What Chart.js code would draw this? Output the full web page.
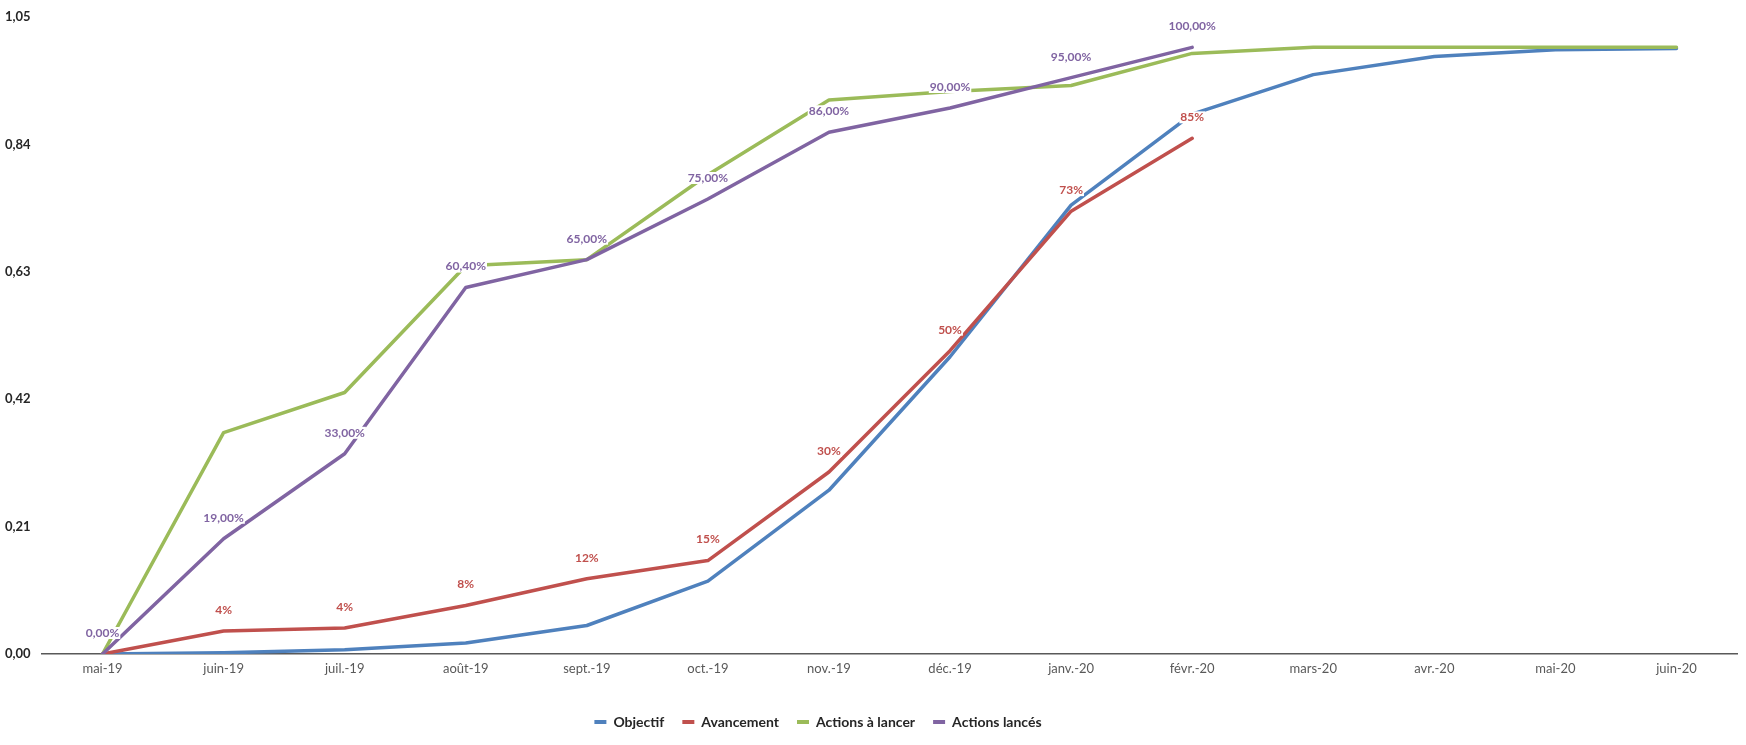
<!DOCTYPE html>
<html lang="fr">
<head>
  <meta charset="UTF-8">
  <title>Avancement des actions</title>
  <script src="https://cdn.jsdelivr.net/npm/chart.js"></script>
  <style>
    html, body { margin: 0; padding: 0; background: #fff; }
    #wrap { width: 1746px; height: 745px; }
  </style>
</head>
<body>
  <div id="wrap"><canvas id="progressChart" width="1746" height="745"></canvas></div>

  <script>
    // data
    const months = ['mai-19', 'juin-19', 'juil.-19', 'août-19', 'sept.-19', 'oct.-19', 'nov.-19',
      'déc.-19', 'janv.-20', 'févr.-20', 'mars-20', 'avr.-20', 'mai-20', 'juin-20'];
    const objectif = [0, 0.002, 0.007, 0.018, 0.047, 0.12, 0.27, 0.49, 0.74, 0.89, 0.955, 0.985, 0.996, 0.998];
    const avancement = [0, 0.038, 0.043, 0.08, 0.124, 0.154, 0.30, 0.50, 0.73, 0.85, null, null, null, null];
    const actionsALancer = [0, 0.365, 0.431, 0.64, 0.65, 0.79, 0.913, 0.927, 0.937, 0.99, 1, 1, 1, 1];
    const actionsLances = [0, 0.19, 0.33, 0.604, 0.65, 0.75, 0.86, 0.90, 0.95, 1.0, null, null, null, null];
    const yTicks = [0, 0.21, 0.42, 0.63, 0.84, 1.05];

    const FONT = 'Lato, "Open Sans", sans-serif';
    const frNum = (v, d) => v.toFixed(d).replace('.', ',');

    // value labels above the points (no datalabels plugin offline)
    const pointLabels = {
      id: 'pointLabels',
      afterDatasetsDraw(chart) {
        const ctx = chart.ctx;
        ctx.save();
        ctx.font = 'bold 12px ' + FONT;
        ctx.textAlign = 'center';
        ctx.textBaseline = 'middle';
        chart.data.datasets.forEach((ds, i) => {
          if (!ds.labelFormat) return;
          const meta = chart.getDatasetMeta(i);
          meta.data.forEach((pt, j) => {
            const v = ds.data[j];
            if (v === null || (ds.skipFirst && j === 0)) return;
            const txt = ds.labelFormat(v);
            const w = ctx.measureText(txt).width;
            const y = pt.y - 21;
            ctx.fillStyle = '#fff';
            ctx.fillRect(pt.x - w / 2 - 1, y - 6, w + 2, 12);
            ctx.fillStyle = ds.borderColor;
            ctx.fillText(txt, pt.x, y);
          });
        });
        ctx.restore();
      }
    };

    // the legend sits a bit left of the middle in the reference
    const shiftLegend = {
      id: 'shiftLegend',
      afterLayout(chart) {
        chart.legend.right -= 106;
      }
    };

    const ctx = document.getElementById('progressChart').getContext('2d');
    new Chart(ctx, {
      type: 'line',
      data: {
        labels: months,
        datasets: [
          { label: 'Objectif', data: objectif, borderColor: '#4f81bd', backgroundColor: '#4f81bd', order: 4 },
          { label: 'Avancement', data: avancement, borderColor: '#c0504d', backgroundColor: '#c0504d', order: 3,
            labelFormat: v => Math.round(v * 100) + '%', skipFirst: true },
          { label: 'Actions à lancer', data: actionsALancer, borderColor: '#9bbb59', backgroundColor: '#9bbb59', order: 2 },
          { label: 'Actions lancés', data: actionsLances, borderColor: '#8064a2', backgroundColor: '#8064a2', order: 1,
            labelFormat: v => frNum(v * 100, 2) + '%' }
        ]
      },
      options: {
        responsive: false,
        animation: false,
        elements: {
          line: { borderWidth: 3.5, tension: 0, borderCapStyle: 'round', borderJoinStyle: 'round' },
          point: { radius: 0 }
        },
        layout: { padding: { top: 17, right: 9, bottom: 6, left: 5 } },
        scales: {
          x: {
            offset: true,
            grid: { display: false, drawTicks: false },
            border: { display: true, color: '#595959', width: 1.5 },
            ticks: { color: '#595959', font: { family: FONT, size: 13 }, padding: 7, maxRotation: 0, autoSkip: false },
            afterFit(scale) { scale.height = 43; }
          },
          y: {
            min: 0,
            max: 1.05,
            grid: { display: false, drawTicks: false },
            border: { display: false },
            afterBuildTicks(scale) { scale.ticks = yTicks.map(v => ({ value: v })); },
            ticks: {
              color: '#262626',
              crossAlign: 'far',
              font: { family: FONT, size: 13, weight: 'bold' },
              callback: v => frNum(v, 2)
            },
            afterFit(scale) { scale.width = 37; }
          }
        },
        plugins: {
          legend: {
            position: 'bottom',
            labels: {
              boxWidth: 12,
              boxHeight: 4,
              padding: 18,
              color: '#262626',
              font: { family: FONT, size: 14, weight: 'bold' },
              sort: (a, b) => a.datasetIndex - b.datasetIndex,
              generateLabels(chart) {
                const items = Chart.defaults.plugins.legend.labels.generateLabels(chart);
                items.forEach(it => { it.lineWidth = 0; });
                return items;
              }
            }
          },
          tooltip: { enabled: false }
        }
      },
      plugins: [pointLabels, shiftLegend]
    });
  </script>
</body>
</html>
